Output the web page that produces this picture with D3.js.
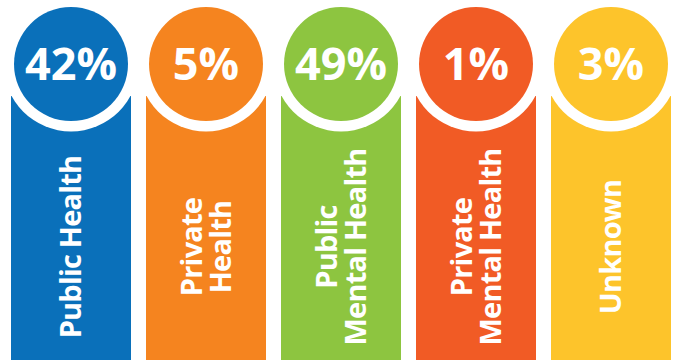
<!DOCTYPE html>
<html>
<head>
<meta charset="utf-8">
<script src="https://cdn.jsdelivr.net/npm/d3@7"></script>
<style>
  html, body { margin: 0; padding: 0; background: #fff; }
  svg { display: block; }
  text { font-family: "Open Sans", "Noto Sans", sans-serif; font-weight: 700; fill: #fff; }
</style>
</head>
<body>
<svg id="chart" width="680" height="363"></svg>
<script>
// Share of respondents by sector
const categories = ["Public Health", "Private Health", "Public Mental Health", "Private Mental Health", "Unknown"];
const labelLines = [["Public Health"], ["Private", "Health"], ["Public", "Mental Health"], ["Private", "Mental Health"], ["Unknown"]];
const values = [42, 5, 49, 1, 3];
const colors = ["#0a70ba", "#f5841f", "#8dc540", "#f15b25", "#fdc42b"];

const W = 680, H = 363;
const svg = d3.select("#chart");

const x = d3.scaleBand()
  .domain(categories)
  .range([11, 671])
  .paddingInner(15 / 135)
  .paddingOuter(0);

const color = d3.scaleOrdinal().domain(categories).range(colors);

const colTop = 96, colBottom = 360;
const circleCy = 64, circleR = 57, ringR = 67.5;
const labelCy = 247, lineGap = 29;

const cols = svg.selectAll("g.col")
  .data(categories.map((c, i) => ({ cat: c, value: values[i], lines: labelLines[i] })))
  .join("g")
  .attr("class", "col")
  .attr("transform", d => `translate(${x(d.cat)},0)`);

const bw = x.bandwidth();

cols.append("rect")
  .attr("x", 0)
  .attr("y", colTop)
  .attr("width", bw)
  .attr("height", colBottom - colTop)
  .attr("fill", d => color(d.cat));

// white ring separating the badge from the column
cols.append("circle")
  .attr("cx", bw / 2)
  .attr("cy", circleCy)
  .attr("r", ringR)
  .attr("fill", "#fff");

cols.append("circle")
  .attr("cx", bw / 2)
  .attr("cy", circleCy)
  .attr("r", circleR)
  .attr("fill", d => color(d.cat));

cols.append("text")
  .attr("x", bw / 2)
  .attr("y", circleCy)
  .attr("dy", "0.36em")
  .attr("text-anchor", "middle")
  .style("font-size", "45px")
  .text(d => d3.format("d")(d.value) + "%");

cols.append("g")
  .attr("transform", `translate(${bw / 2},${labelCy}) rotate(-90)`)
  .selectAll("text")
  .data(d => d.lines.map((t, i) => ({ t, off: (i - (d.lines.length - 1) / 2) * lineGap })))
  .join("text")
  .attr("x", 0)
  .attr("y", d => d.off)
  .attr("dy", "0.36em")
  .attr("text-anchor", "middle")
  .style("font-size", "29px")
  .style("letter-spacing", "-0.8px")
  .text(d => d.t);
</script>
</body>
</html>
